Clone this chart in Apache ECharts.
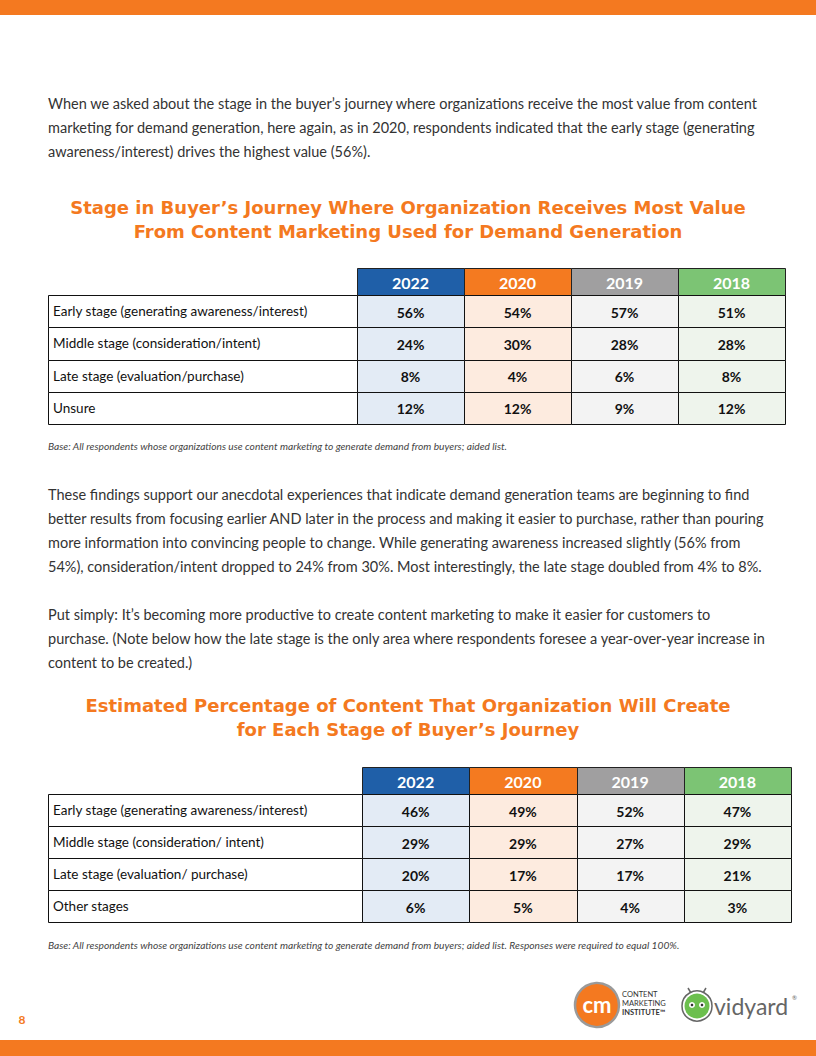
<!DOCTYPE html>
<html><head><meta charset="utf-8">
<script src="https://cdn.jsdelivr.net/npm/echarts@6/dist/echarts.min.js"></script>
<style>html,body{margin:0;padding:0;background:#fff}#c{width:816px;height:1056px}</style>
</head><body><div id="c"></div>
<script>
// ---- data ----
const years = ['2022', '2020', '2019', '2018'];
const t1Rows = ['Early stage (generating awareness/interest)', 'Middle stage (consideration/intent)', 'Late stage (evaluation/purchase)', 'Unsure'];
const t1v2022 = [56, 24, 8, 12];
const t1v2020 = [54, 30, 4, 12];
const t1v2019 = [57, 28, 6, 9];
const t1v2018 = [51, 28, 8, 12];
const t2Rows = ['Early stage (generating awareness/interest)', 'Middle stage (consideration/ intent)', 'Late stage (evaluation/ purchase)', 'Other stages'];
const t2v2022 = [46, 29, 20, 6];
const t2v2020 = [49, 29, 17, 5];
const t2v2019 = [52, 27, 17, 4];
const t2v2018 = [47, 29, 21, 3];
const title1 = ['Stage in Buyer’s Journey Where Organization Receives Most Value', 'From Content Marketing Used for Demand Generation'];
const title2 = ['Estimated Percentage of Content That Organization Will Create', 'for Each Stage of Buyer’s Journey'];
const para1 = ['When we asked about the stage in the buyer’s journey where organizations receive the most value from content',
  'marketing for demand generation, here again, as in 2020, respondents indicated that the early stage (generating',
  'awareness/interest) drives the highest value (56%).'];
const para2 = ['These findings support our anecdotal experiences that indicate demand generation teams are beginning to find',
  'better results from focusing earlier AND later in the process and making it easier to purchase, rather than pouring',
  'more information into convincing people to change. While generating awareness increased slightly (56% from',
  '54%), consideration/intent dropped to 24% from 30%. Most interestingly, the late stage doubled from 4% to 8%.'];
const para3 = ['Put simply: It’s becoming more productive to create content marketing to make it easier for customers to',
  'purchase. (Note below how the late stage is the only area where respondents foresee a year-over-year increase in',
  'content to be created.)'];
const note1 = 'Base: All respondents whose organizations use content marketing to generate demand from buyers; aided list.';
const note2 = 'Base: All respondents whose organizations use content marketing to generate demand from buyers; aided list. Responses were required to equal 100%.';
const pageNum = '8';

// ---- styles ----
const ORANGE = '#F47920';
const headColors = ['#1F5FA8', '#F47A20', '#A09FA0', '#7CC474'];
const tintColors = ['#E3EBF5', '#FDEBDF', '#F3F3F3', '#EEF4EC'];
const BODY = 'Lato, "Noto Sans", sans-serif';
const TBL = 'Lato, "Noto Sans", sans-serif';
const TITLE = '"DejaVu Sans", "Open Sans", sans-serif';
const HEAD_H = 27;
const LABEL_LEFT = 48;

function cells(cols) {
  const out = [];
  cols.forEach((arr, ci) => arr.forEach((v, ri) => out.push([ci, ri, v])));
  return out;
}
function box(api, ci, ri) {
  const c = api.coord([ci, ri]);
  const s = api.size([1, 1]);
  const x0 = Math.round(c[0] - s[0] / 2), x1 = Math.round(c[0] + s[0] / 2);
  const y0 = Math.round(c[1] - s[1] / 2), y1 = Math.round(c[1] + s[1] / 2);
  return { c: c, x0: x0, x1: x1, y0: y0, y1: y1 };
}

function cellRender(params, api) {
  const ci = api.value(0), ri = api.value(1);
  const b = box(api, ci, ri);
  return {
    type: 'group', children: [
      { type: 'rect', shape: { x: b.x0 + 0.5, y: b.y0 + 0.5, width: b.x1 - b.x0, height: b.y1 - b.y0 },
        style: { fill: tintColors[ci], stroke: '#111', lineWidth: 1 } },
      { type: 'text', style: { x: b.c[0], y: b.c[1] + 1, text: api.value(2) + '%', align: 'center', verticalAlign: 'middle',
        font: 'bold 14px ' + TBL, fill: '#111' } }
    ]
  };
}
function labelColRender(params, api) {
  const b = box(api, 0, api.value(1));
  return { type: 'rect', shape: { x: LABEL_LEFT + 0.5, y: b.y0 + 0.5, width: b.x0 - LABEL_LEFT, height: b.y1 - b.y0 },
    style: { fill: '#fff', stroke: '#111', lineWidth: 1 } };
}
function headRender(params, api) {
  const ci = api.value(0);
  const b = box(api, ci, 0);
  return { type: 'rect', shape: { x: b.x0 + 0.5, y: b.y0 - HEAD_H + 0.5, width: b.x1 - b.x0, height: HEAD_H },
    style: { fill: headColors[ci], stroke: '#222', lineWidth: 1 } };
}

function textLines(lines, x, y0, lh, font, fill, align) {
  return lines.map((t, i) => ({ type: 'text', x: x, y: y0 + i * lh,
    style: { text: t, font: font, fill: fill, align: align || 'left', verticalAlign: 'middle' } }));
}

const grids = [
  { left: 357, top: 295, width: 428, height: 129 },
  { left: 362, top: 794, width: 429, height: 128 }
];
const rowsPer = [t1Rows, t2Rows];
const xAxes = grids.map((g, i) => ({ type: 'category', gridIndex: i, data: years, position: 'top', z: 10,
  axisLine: { show: false }, axisTick: { show: false }, splitLine: { show: false },
  axisLabel: { color: '#fff', fontFamily: TBL, fontWeight: 'bold', fontSize: 16, verticalAlign: 'middle', margin: 13 } }));
const yAxes = grids.map((g, i) => ({ type: 'category', gridIndex: i, data: rowsPer[i], inverse: true, z: 10,
  axisLine: { show: false }, axisTick: { show: false }, splitLine: { show: false },
  axisLabel: { color: '#111', fontFamily: TBL, fontSize: 13.5, align: 'left', margin: g.left - LABEL_LEFT - 5 } }));

const t1Cells = cells([t1v2022, t1v2020, t1v2019, t1v2018]);
const t2Cells = cells([t2v2022, t2v2020, t2v2019, t2v2018]);
const series = [];
[t1Cells, t2Cells].forEach((data, i) => {
  series.push({ type: 'custom', xAxisIndex: i, yAxisIndex: i, renderItem: labelColRender, data: rowsPer[i].map((r, ri) => [0, ri]), z: 1, silent: true });
  series.push({ type: 'custom', xAxisIndex: i, yAxisIndex: i, renderItem: headRender, data: years.map((y, ci) => [ci, 0]), z: 1, silent: true });
  series.push({ type: 'custom', xAxisIndex: i, yAxisIndex: i, renderItem: cellRender, data: data, z: 2, silent: true });
});

const graphics = [
  { type: 'rect', shape: { x: 0, y: 0, width: 816, height: 15 }, style: { fill: ORANGE } },
  { type: 'rect', shape: { x: 0, y: 1040, width: 816, height: 16 }, style: { fill: ORANGE } },
  ...textLines(para1, 48, 103, 24, '14.5px ' + BODY, '#333'),
  ...textLines(title1, 408, 207, 24, 'bold 18px ' + TITLE, ORANGE, 'center'),
  ...textLines([note1], 48, 446, 0, 'italic 10.2px ' + BODY, '#444'),
  ...textLines(para2, 48, 494, 24, '14.5px ' + BODY, '#333'),
  ...textLines(para3, 48, 614, 24, '14.5px ' + BODY, '#333'),
  ...textLines(title2, 408, 705, 24, 'bold 18px ' + TITLE, ORANGE, 'center'),
  ...textLines([note2], 48, 945, 0, 'italic 10.2px ' + BODY, '#444'),
  { type: 'text', x: 22, y: 1019, style: { text: pageNum, font: 'bold 12px ' + BODY, fill: ORANGE, align: 'center', verticalAlign: 'middle' } },
  // CMI logo
  { type: 'circle', shape: { cx: 597, cy: 1005, r: 22 }, style: { fill: ORANGE, stroke: '#9a9a9a', lineWidth: 2.5 } },
  { type: 'text', x: 597, y: 1004, style: { text: 'cm', font: 'bold 22px ' + BODY, fill: '#fff', align: 'center', verticalAlign: 'middle' } },
  { type: 'text', x: 622, y: 994, style: { text: 'CONTENT', font: '7.5px ' + BODY, fill: '#333', verticalAlign: 'middle' } },
  { type: 'text', x: 622, y: 1003, style: { text: 'MARKETING', font: '7.5px ' + BODY, fill: '#333', verticalAlign: 'middle' } },
  { type: 'text', x: 622, y: 1012, style: { text: 'INSTITUTE™', font: 'bold 7.5px ' + BODY, fill: '#333', verticalAlign: 'middle' } },
  // vidyard logo
  { type: 'line', shape: { x1: 691, y1: 993, x2: 688, y2: 988 }, style: { stroke: '#666', lineWidth: 1.5 } },
  { type: 'line', shape: { x1: 703, y1: 993, x2: 706, y2: 988 }, style: { stroke: '#666', lineWidth: 1.5 } },
  { type: 'circle', shape: { cx: 697, cy: 1006, r: 15 }, style: { fill: '#fff', stroke: '#666', lineWidth: 1.5 } },
  { type: 'circle', shape: { cx: 697, cy: 1006, r: 12.5 }, style: { fill: '#6CBF4E' } },
  { type: 'circle', shape: { cx: 692, cy: 1005, r: 3 }, style: { fill: '#fff' } },
  { type: 'circle', shape: { cx: 702, cy: 1005, r: 3 }, style: { fill: '#fff' } },
  { type: 'circle', shape: { cx: 692, cy: 1005, r: 1.3 }, style: { fill: '#333' } },
  { type: 'circle', shape: { cx: 702, cy: 1005, r: 1.3 }, style: { fill: '#333' } },
  { type: 'text', x: 714, y: 1006, style: { text: 'vidyard', font: '23px ' + BODY, fill: '#666', verticalAlign: 'middle' } },
  { type: 'text', x: 792, y: 997, style: { text: '®', font: '6px ' + BODY, fill: '#666', verticalAlign: 'middle' } }
];

const chart = echarts.init(document.getElementById('c'), null, { renderer: 'svg' });
chart.setOption({
  animation: false,
  backgroundColor: '#fff',
  grid: grids.map(g => Object.assign({ containLabel: false }, g)),
  xAxis: xAxes,
  yAxis: yAxes,
  series: series,
  graphic: graphics
});
</script></body></html>
